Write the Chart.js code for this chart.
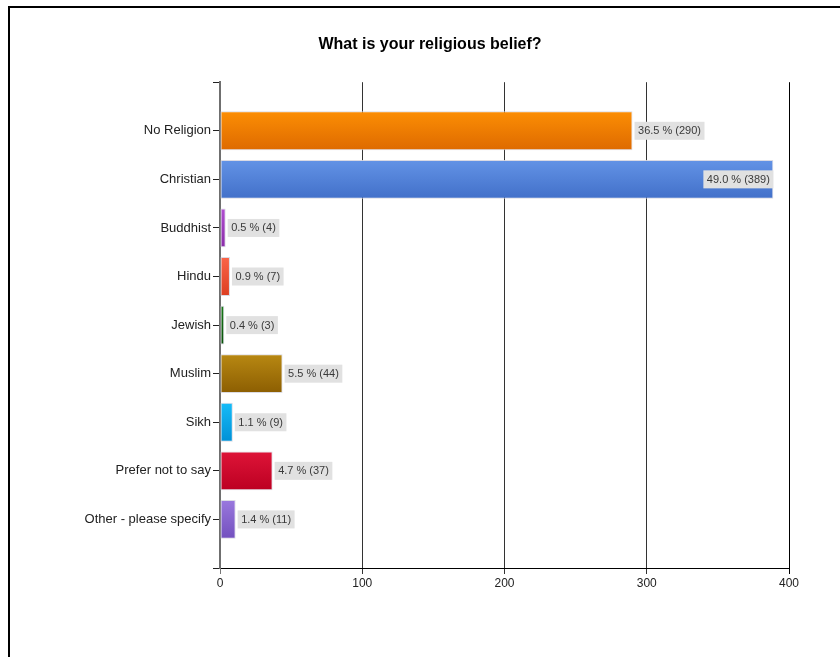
<!DOCTYPE html>
<html>
<head>
<meta charset="utf-8">
<script src="https://cdn.jsdelivr.net/npm/chart.js@4/dist/chart.umd.min.js"></script>
<style>
  html, body { margin: 0; padding: 0; background: #fff; overflow: hidden; }
  #frame { position: absolute; left: 8px; top: 6px; width: 850px; height: 660px; border: 2px solid #000; background: #fff; }
  #wrap { position: absolute; left: 0; top: 0; width: 840px; height: 652px; }
</style>
</head>
<body>
<div id="frame"><div id="wrap"><canvas id="c"></canvas></div></div>
<script>
const categories = ['No Religion', 'Christian', 'Buddhist', 'Hindu', 'Jewish', 'Muslim', 'Sikh', 'Prefer not to say', 'Other - please specify'];
const counts = [290, 389, 4, 7, 3, 44, 9, 37, 11];
const percents = ['36.5', '49.0', '0.5', '0.9', '0.4', '5.5', '1.1', '4.7', '1.4'];
const xTicks = [0, 100, 200, 300, 400];

const barColors = [
  ['#FC8E04', '#DE6A00'],
  ['#6393E6', '#4270C9'],
  ['#B04ED0', '#8A2CA8'],
  ['#FA6448', '#DC3E22'],
  ['#1A7A1A', '#0A500A'],
  ['#B88812', '#8C5E02'],
  ['#16BCF8', '#0090D6'],
  ['#DE1438', '#BC0022'],
  ['#9A78DE', '#7250BE']
];

// pad the category axis with empty slots at both ends
const labels = [''].concat(categories, ['']);
const data = [null].concat(counts, [null]);
const colorsPadded = [null].concat(barColors, [null]);

const gradientPlugin = {
  id: 'barGradient',
  beforeDatasetsDraw(chart) {
    const ctx = chart.ctx;
    const meta = chart.getDatasetMeta(0);
    meta.data.forEach((el, i) => {
      const c = colorsPadded[i];
      if (!c || data[i] == null) return;
      const top = el.y - el.height / 2, bot = el.y + el.height / 2;
      const g = ctx.createLinearGradient(0, top, 0, bot);
      g.addColorStop(0, c[0]);
      g.addColorStop(1, c[1]);
      el.options.backgroundColor = g;
    });
  }
};

const labelPlugin = {
  id: 'valueLabels',
  afterDatasetsDraw(chart) {
    const ctx = chart.ctx;
    const area = chart.chartArea;
    const meta = chart.getDatasetMeta(0);
    ctx.save();
    ctx.font = '11px "Liberation Sans", Arial, sans-serif';
    ctx.textBaseline = 'middle';
    meta.data.forEach((el, i) => {
      if (data[i] == null) return;
      const idx = i - 1;
      const txt = percents[idx] + ' % (' + counts[idx] + ')';
      const w = ctx.measureText(txt).width + 7;
      const h = 18;
      let x0 = el.x + 2;
      if (x0 + w > area.right - 4) x0 = el.x - w;
      ctx.fillStyle = '#e1e1e1';
      ctx.fillRect(x0, el.y - h / 2, w, h);
      ctx.fillStyle = '#3a3a3a';
      ctx.textAlign = 'left';
      ctx.fillText(txt, x0 + 3.5, el.y + 0.5);
    });
    ctx.restore();
  }
};

new Chart(document.getElementById('c'), {
  type: 'bar',
  data: {
    labels: labels,
    datasets: [{
      data: data,
      backgroundColor: colorsPadded.map(c => c ? c[0] : 'transparent'),
      borderColor: 'rgba(215,215,225,0.9)',
      borderWidth: 1,
      borderSkipped: false,
      categoryPercentage: 0.8,
      barPercentage: 1.0
    }]
  },
  options: {
    indexAxis: 'y',
    responsive: true,
    maintainAspectRatio: false,
    animation: false,
    devicePixelRatio: 1,
    layout: { padding: { left: 61, right: 61, top: 0, bottom: 62 } },
    plugins: {
      legend: { display: false },
      tooltip: { enabled: false },
      title: {
        display: true,
        text: 'What is your religious belief?',
        color: '#000',
        font: { family: '"Liberation Sans", Arial, sans-serif', size: 16, weight: 'bold' },
        padding: { top: 27, bottom: 28 }
      }
    },
    scales: {
      x: {
        type: 'linear',
        min: 0,
        max: 400,
        afterBuildTicks(scale) { scale.ticks = xTicks.map(v => ({ value: v })); },
        afterFit(scale) { scale.height = 30; },
        border: { display: true, color: '#000', width: 1 },
        grid: {
          color: ctx => ctx.index === 0 ? '#777' : (ctx.index === xTicks.length - 1 ? '#000' : '#333'),
          lineWidth: 1,
          drawTicks: true,
          tickLength: 6
        },
        ticks: {
          color: '#222',
          padding: 2,
          maxRotation: 0,
          font: { family: '"Liberation Sans", Arial, sans-serif', size: 12 }
        }
      },
      y: {
        type: 'category',
        offset: false,
        afterFit(scale) { scale.width = 149; },
        border: { display: true, color: '#6f6f6f', width: 2 },
        grid: {
          offset: false,
          drawOnChartArea: false,
          drawTicks: true,
          tickLength: 7,
          color: '#222',
          lineWidth: 1
        },
        ticks: {
          color: '#222',
          padding: 2,
          autoSkip: false,
          font: { family: '"Liberation Sans", Arial, sans-serif', size: 13 }
        }
      }
    }
  },
  plugins: [gradientPlugin, labelPlugin]
});
</script>
</body>
</html>
